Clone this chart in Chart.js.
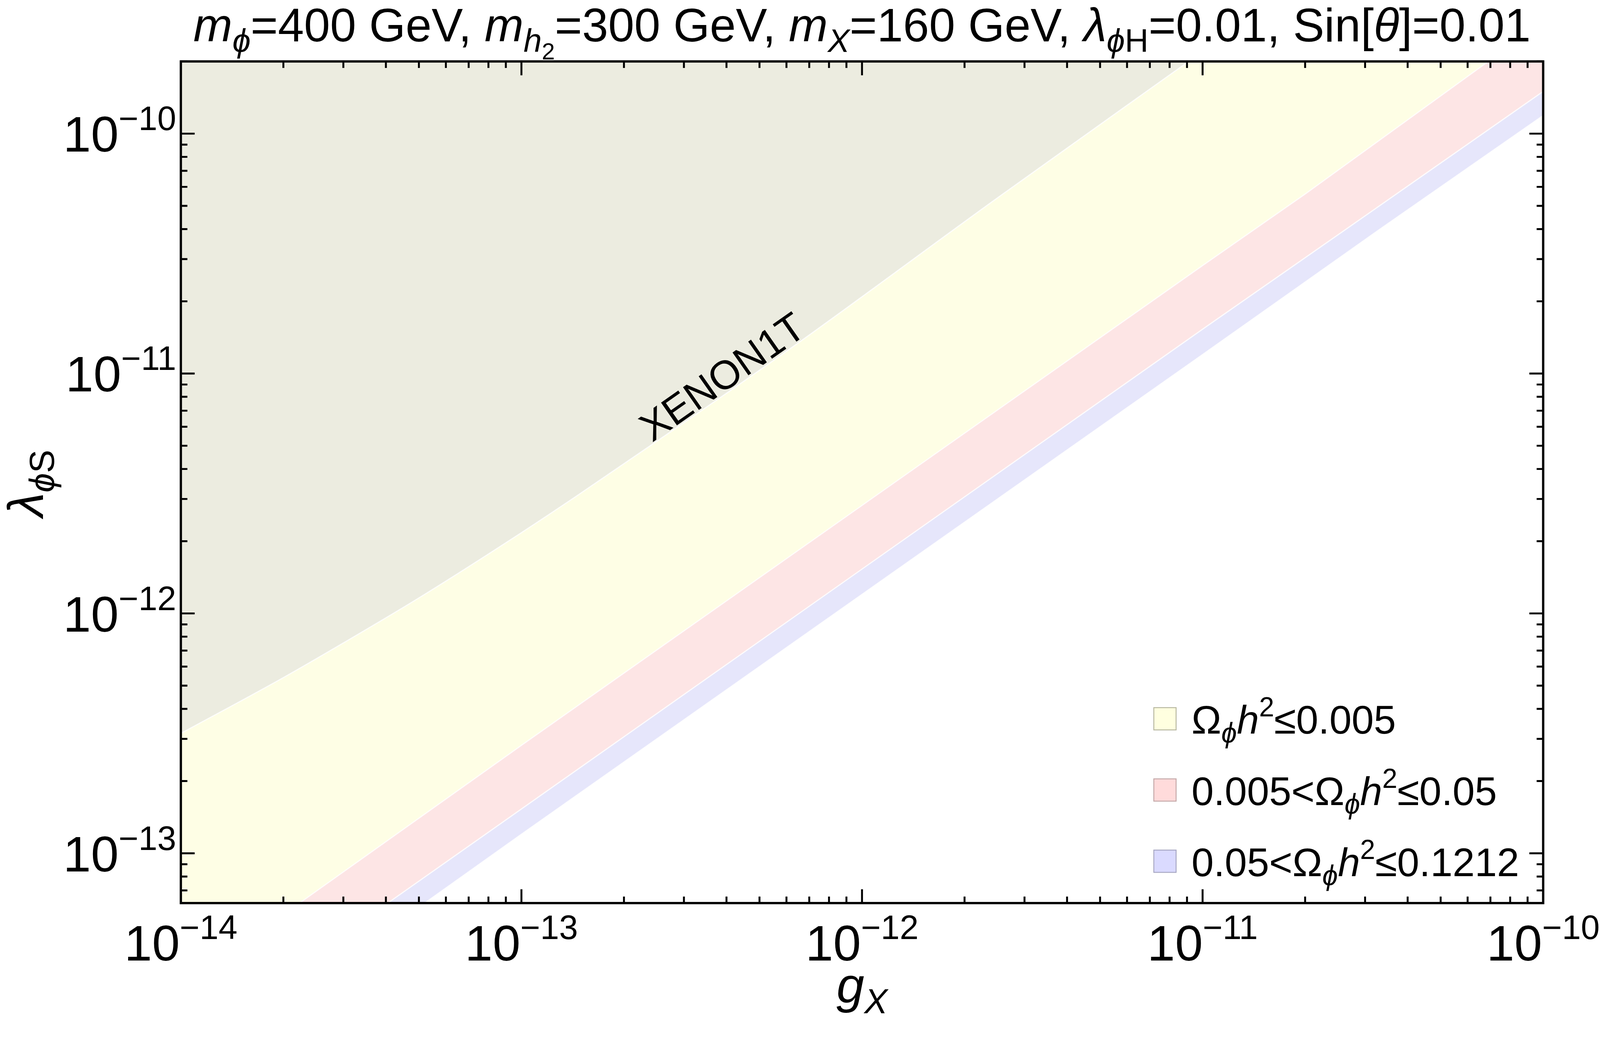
<!DOCTYPE html>
<html>
<head>
<meta charset="utf-8" />
<title>Relic density bands, lambda_phiS vs g_X</title>
<script src="https://cdn.jsdelivr.net/npm/chart.js"></script>
<style>
  html, body { margin: 0; padding: 0; background: #fff; overflow: hidden; }
  canvas { display: block; }
</style>
</head>
<body>
<canvas id="plot"></canvas>
<script>
// axis ranges
const gMin = 1e-14, gMax = 1e-10;
const lamMin = 6.2e-14, lamMax = 2e-10;

// XENON1T exclusion boundary (region above is excluded)
const xenonG   = [1e-14, 2.0e-14, 3.0e-14, 5.0e-14, 1e-13, 1.45e-13, 3.16e-13, 6.3e-13, 2.5e-12, 9.1e-12];
const xenonLam = [3.16e-13, 5.4e-13, 7.53e-13, 1.16e-12, 2.17e-12, 3.08e-12, 6.56e-12, 1.3e-11, 5.4e-11, 2.0e-10];

// lower edge of Omega h^2 <= 0.005 band
const yellowG   = [1e-14, 2.23e-14, 1e-13, 1e-12, 1e-11, 2.0e-11, 6.9e-11];
const yellowLam = [6.2e-14, 6.2e-14, 2.82e-13, 2.82e-12, 2.82e-11, 5.6e-11, 2.0e-10];

// lower edge of 0.005 < Omega h^2 <= 0.05 band
const pinkG   = [1e-14, 4.05e-14, 1e-13, 1e-12, 1e-11, 2.6e-11, 1e-10];
const pinkLam = [6.2e-14, 6.2e-14, 1.53e-13, 1.53e-12, 1.53e-11, 3.94e-11, 1.5e-10];

// lower edge of 0.05 < Omega h^2 <= 0.1212 band
const blueG   = [1e-14, 5.2e-14, 1e-13, 1e-12, 1e-11, 3.27e-11, 1e-10];
const blueLam = [6.2e-14, 6.2e-14, 1.2e-13, 1.2e-12, 1.2e-11, 3.94e-11, 1.19e-10];

// ticks
const xTickVals = [1e-14, 1e-13, 1e-12, 1e-11, 1e-10];
const xTickLabels = ['\u221214', '\u221213', '\u221212', '\u221211', '\u221210'];
const yTickVals = [1e-13, 1e-12, 1e-11, 1e-10];
const yTickLabels = ['\u221213', '\u221212', '\u221211', '\u221210'];
const tickDecades = [-15, -14, -13, -12, -11, -10];
const tickMults = [1, 2, 3, 4, 5, 6, 7, 8, 9];

const xenonLabelAt = [4.1e-13, 8.7e-12];

const colGray = 'rgb(236,236,224)';
const colYellow = 'rgb(254,254,229)';
const colPink = 'rgb(253,229,229)';
const colBlue = 'rgb(230,230,251)';

const legendItems = [
  { fill: 'rgb(255,255,224)', edge: 'rgb(184,184,160)',
    text: [{t: '\u03A9'}, {t: '\u03D5', i: 1, sub: 1}, {t: 'h', i: 1}, {t: '2', sup: 1}, {t: '\u22640.005'}] },
  { fill: 'rgb(255,219,219)', edge: 'rgb(196,168,168)',
    text: [{t: '0.005<\u03A9'}, {t: '\u03D5', i: 1, sub: 1}, {t: 'h', i: 1}, {t: '2', sup: 1}, {t: '\u22640.05'}] },
  { fill: 'rgb(218,218,255)', edge: 'rgb(168,168,196)',
    text: [{t: '0.05<\u03A9'}, {t: '\u03D5', i: 1, sub: 1}, {t: 'h', i: 1}, {t: '2', sup: 1}, {t: '\u22640.1212'}] }
];

const titleSegs = [
  {t: 'm', i: 1}, {t: '\u03D5', i: 1, sub: 1}, {t: '=400 GeV, '},
  {t: 'm', i: 1}, {t: 'h', i: 1, sub: 1}, {t: '2', subsub: 1}, {t: '=300 GeV, '},
  {t: 'm', i: 1}, {t: 'X', i: 1, sub: 1}, {t: '=160 GeV, '},
  {t: '\u03BB', i: 1}, {t: '\u03D5', i: 1, sub: 1}, {t: 'H', sub: 1}, {t: '=0.01, '},
  {t: 'Sin['}, {t: '\u03B8', i: 1}, {t: ']=0.01'}
];
const xTitleSegs = [{t: 'g', i: 1}, {t: 'X', i: 1, sub: 1}];
const yTitleSegs = [{t: '\u03BB', i: 1}, {t: '\u03D5', i: 1, sub: 1}, {t: 'S', sub: 1}];

// page size; layout numbers below are given for a 4167 px wide page
const W = window.innerWidth, H = window.innerHeight;
const sx = W / 4167, sy = sx;
const canvas = document.getElementById('plot');
canvas.width = W;
canvas.height = H;

function pts(xs, ys) {
  return xs.map((v, k) => ({ x: v, y: ys[k] }));
}

// rich text: italic, sub and superscripts
function fontFor(s, size) {
  return (s.i ? 'italic ' : '') + size.toFixed(1) + 'px "Liberation Sans", Arial, sans-serif';
}
function drawRich(ctx, segs, base, x, y, align) {
  base = base * sx;
  let w = 0;
  const parts = segs.map(s => {
    let size = base, dy = 0;
    if (s.sub) { size = base * 0.7; dy = base * 0.22; }
    if (s.subsub) { size = base * 0.5; dy = base * 0.38; }
    if (s.sup) { size = base * 0.68; dy = -base * 0.43; }
    const f = fontFor(s, size);
    ctx.font = f;
    const p = { t: s.t, f: f, dy: dy, x: w };
    w += ctx.measureText(s.t).width;
    return p;
  });
  const x0 = align === 'center' ? x - w / 2 : (align === 'right' ? x - w : x);
  parts.forEach(p => {
    ctx.font = p.f;
    ctx.fillText(p.t, x0 + p.x, y + p.dy);
  });
}

const framePlugin = {
  id: 'frame',
  afterDraw(chart) {
    const ctx = chart.ctx;
    const a = chart.chartArea;
    const xs = chart.scales.x, ys = chart.scales.y;
    ctx.save();
    ctx.fillStyle = '#000';
    ctx.strokeStyle = '#000';
    ctx.textBaseline = 'alphabetic';

    // XENON1T label
    ctx.save();
    ctx.translate(xs.getPixelForValue(xenonLabelAt[0]), ys.getPixelForValue(xenonLabelAt[1]));
    ctx.rotate(-35 * Math.PI / 180);
    drawRich(ctx, [{t: 'XENON1T'}], 105, 0, 0, 'center');
    ctx.restore();

    // legend
    legendItems.forEach((it, k) => {
      const top = (1843 + k * 185.5) * sy;
      const box = 58 * sx;
      ctx.fillStyle = it.fill;
      ctx.fillRect(3005 * sx, top, box, box);
      ctx.lineWidth = 2.5 * sx;
      ctx.strokeStyle = it.edge;
      ctx.strokeRect(3005 * sx, top, box, box);
      ctx.fillStyle = '#000';
      drawRich(ctx, it.text, 104, 3103 * sx, top + 68 * sy, 'left');
    });

    // inward ticks on all four sides
    ctx.strokeStyle = '#000';
    ctx.lineWidth = 5 * sx;
    ctx.beginPath();
    tickDecades.forEach(e => {
      tickMults.forEach(m => {
        const v = m * Math.pow(10, e);
        const len = (m === 1 ? 36 : 17) * sx;
        if (v >= xs.min * 0.9999 && v <= xs.max * 1.0001) {
          const px = xs.getPixelForValue(v);
          ctx.moveTo(px, a.bottom); ctx.lineTo(px, a.bottom - len);
          ctx.moveTo(px, a.top); ctx.lineTo(px, a.top + len);
        }
        if (v >= ys.min * 0.9999 && v <= ys.max * 1.0001) {
          const py = ys.getPixelForValue(v);
          ctx.moveTo(a.left, py); ctx.lineTo(a.left + len, py);
          ctx.moveTo(a.right, py); ctx.lineTo(a.right - len, py);
        }
      });
    });
    ctx.stroke();

    // frame
    ctx.lineWidth = 6 * sx;
    ctx.strokeRect(a.left, a.top, a.right - a.left, a.bottom - a.top);

    // tick labels
    ctx.fillStyle = '#000';
    xTickVals.forEach((v, k) => {
      drawRich(ctx, [{t: '10'}, {t: xTickLabels[k], sup: 1}], 130, xs.getPixelForValue(v), a.bottom + 150 * sy, 'center');
    });
    yTickVals.forEach((v, k) => {
      drawRich(ctx, [{t: '10'}, {t: yTickLabels[k], sup: 1}], 130, a.left - 12 * sx, ys.getPixelForValue(v) + 47 * sy, 'right');
    });

    // titles
    drawRich(ctx, titleSegs, 122, (a.left + a.right) / 2, 108 * sy, 'center');
    drawRich(ctx, xTitleSegs, 130, (a.left + a.right) / 2, 2610 * sy, 'center');
    ctx.save();
    ctx.translate(112 * sx, (a.top + a.bottom) / 2 + 3 * sy);
    ctx.rotate(-Math.PI / 2);
    drawRich(ctx, yTitleSegs, 130, 0, 0, 'center');
    ctx.restore();

    ctx.restore();
  }
};

function band(data, color, smooth) {
  return {
    data: data,
    showLine: true,
    fill: 'end',
    backgroundColor: color,
    borderColor: 'rgba(255,255,255,0.85)',
    borderWidth: 3 * sx,
    pointRadius: 0,
    tension: 0,
    cubicInterpolationMode: smooth ? 'monotone' : 'default'
  };
}

// first dataset is drawn last (on top)
new Chart(canvas.getContext('2d'), {
  type: 'scatter',
  data: {
    datasets: [
      band(pts(xenonG, xenonLam), colGray, true),
      band(pts(yellowG, yellowLam), colYellow, false),
      band(pts(pinkG, pinkLam), colPink, false),
      band(pts(blueG, blueLam), colBlue, false)
    ]
  },
  options: {
    responsive: false,
    animation: false,
    layout: { padding: { left: 471 * sx, right: 148 * sx, top: 160 * sy, bottom: H - 2352 * sy } },
    scales: {
      x: { type: 'logarithmic', min: gMin, max: gMax, display: false },
      y: { type: 'logarithmic', min: lamMin, max: lamMax, display: false }
    },
    plugins: { legend: { display: false }, tooltip: { enabled: false } }
  },
  plugins: [framePlugin]
});
</script>
</body>
</html>
